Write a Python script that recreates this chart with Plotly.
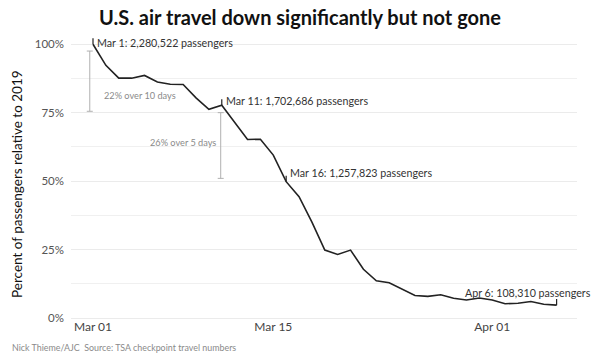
import plotly.graph_objects as go
import pandas as pd

dates = pd.date_range("2020-03-01", "2020-04-06", freq="D")
pct_of_2019 = [100, 92.3, 87.6, 87.6, 88.6, 86.2, 85.4, 85.3, 80.4, 76.2,
               77.7, 71.3, 65.2, 65.3, 59.5, 49.8, 44.3, 35.0, 24.8, 23.2,
               24.8, 17.8, 13.6, 12.9, 10.5, 8.2, 7.9, 8.5, 7.2, 6.6,
               7.3, 6.6, 5.2, 5.4, 6.0, 5.0, 4.7]

label_dates = ["2020-03-01", "2020-03-11", "2020-03-16", "2020-04-06"]
label_texts = ["Mar 1: 2,280,522 passengers", "Mar 11: 1,702,686 passengers",
               "Mar 16: 1,257,823 passengers", "Apr 6: 108,310 passengers"]

bracket_x = ["2020-02-29 18:00", "2020-03-10 22:00"]
bracket_top = [97.5, 75.0]
bracket_bottom = [75.5, 51.0]
bracket_texts = ["22% over 10 days", "26% over 5 days"]
bracket_text_y = [81.4, 64.0]

y_tickvals = [0, 25, 50, 75, 100]
y_ticktext = ["0%", "25%", "50%", "75%", "100%"]
x_tickvals = ["2020-03-01", "2020-03-15", "2020-04-01"]
x_ticktext = ["Mar 01", "Mar 15", "Apr 01"]

FONT = "Lato"
val_by_date = {d.strftime("%Y-%m-%d"): v for d, v in zip(dates, pct_of_2019)}

fig = go.Figure()
fig.add_trace(go.Scatter(x=dates, y=pct_of_2019, mode="lines",
                         line=dict(color="#222222", width=1.6),
                         hoverinfo="skip", showlegend=False))

# label tick marks
for d in label_dates:
    v = val_by_date[d]
    fig.add_trace(go.Scatter(x=[d, d], y=[v, v + 2.2], mode="lines",
                             line=dict(color="#222222", width=1.2),
                             hoverinfo="skip", showlegend=False))

shifts = [(2, 2), (2, 5), (2, 9), (-94, 13)]
for d, t, (xs, ys) in zip(label_dates, label_texts, shifts):
    fig.add_annotation(x=d, y=val_by_date[d], text=t, showarrow=False,
                       xanchor="left", yanchor="middle", xshift=xs, yshift=ys,
                       font=dict(family=FONT, size=10.7, color="#333333"))

# brackets
for bx, top, bot in zip(bracket_x, bracket_top, bracket_bottom):
    fig.add_shape(type="line", xref="x", yref="y", x0=bx, x1=bx, y0=bot, y1=top,
                  line=dict(color="#b0b0b0", width=1))
    for yy in (top, bot):
        fig.add_shape(type="line", xref="x", yref="y", xsizemode="pixel",
                      xanchor=bx, x0=-3, x1=3, y0=yy, y1=yy,
                      line=dict(color="#b0b0b0", width=1))

fig.add_annotation(x=bracket_x[0], y=bracket_text_y[0], text=bracket_texts[0],
                   showarrow=False, xanchor="left", xshift=12,
                   font=dict(family=FONT, size=9.2, color="#8a8a8a"))
fig.add_annotation(x=bracket_x[1], y=bracket_text_y[1], text=bracket_texts[1],
                   showarrow=False, xanchor="right", xshift=-3,
                   font=dict(family=FONT, size=9.2, color="#8a8a8a"))

fig.add_annotation(xref="paper", yref="paper", x=-0.1206, y=-0.106,
                   xanchor="left", yanchor="middle", showarrow=False,
                   text="Nick Thieme/AJC  Source: TSA checkpoint travel numbers",
                   font=dict(family=FONT, size=8.9, color="#8a8a8a"))

fig.add_annotation(xref="paper", yref="paper", x=-0.107, y=0.475,
                   xanchor="center", yanchor="middle", showarrow=False,
                   textangle=-90,
                   text="Percent of passengers relative to 2019",
                   font=dict(family=FONT, size=13.5, color="#111111"))

fig.update_layout(
    width=600, height=357,
    margin=dict(l=71, r=23, t=36, b=39, autoexpand=False),
    paper_bgcolor="white", plot_bgcolor="white",
    title=dict(text="<b>U.S. air travel down significantly but not gone</b>",
               x=0.5, xanchor="center", y=0.95, yanchor="middle",
               font=dict(family=FONT, size=20, color="#111111")),
    xaxis=dict(range=["2020-02-28 07:00", "2020-04-07 14:00"],
               tickvals=x_tickvals, ticktext=x_ticktext, showgrid=False,
               zeroline=False, showline=False, ticks="", automargin=False,
               tickfont=dict(family=FONT, size=12, color="#444444")),
    yaxis=dict(range=[0, 103], tickvals=y_tickvals, ticktext=y_ticktext,
               showgrid=True, gridcolor="#ebebeb", gridwidth=1,
               zeroline=True, zerolinecolor="#ebebeb", zerolinewidth=1,
               ticks="", ticklabelstandoff=6, automargin=False,
               minor=dict(tickvals=[12.5, 37.5, 62.5, 87.5], showgrid=True,
                          gridcolor="#f0f0f0", gridwidth=1),
               tickfont=dict(family=FONT, size=11.5, color="#555555")),
)

fig.write_html("out.html", config={"displayModeBar": False},
               post_script="document.body.style.margin='0';")
